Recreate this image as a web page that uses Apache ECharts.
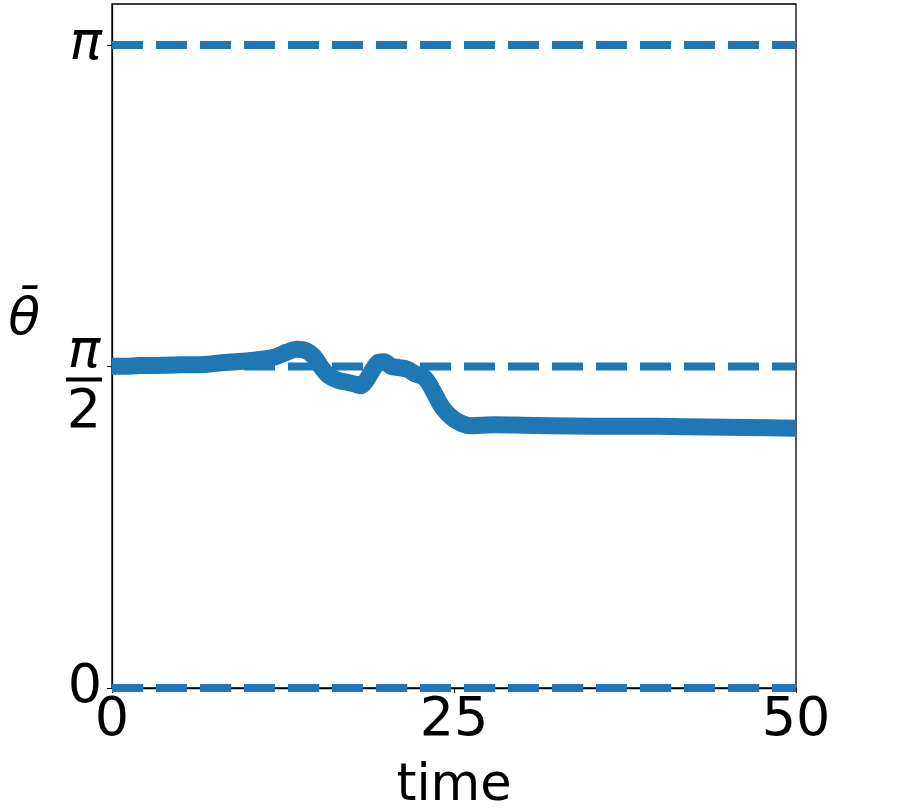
<!DOCTYPE html>
<html>
<head>
<meta charset="utf-8">
<script src="https://cdn.jsdelivr.net/npm/echarts@6/dist/echarts.min.js"></script>
<style>
  html, body { margin: 0; padding: 0; background: #fff; }
  #chart { width: 902px; height: 811px; }
</style>
</head>
<body>
<div id="chart"></div>
<script>
// time samples and mean angle
const times = [0, 1, 2, 3, 4, 5, 6, 7, 8, 9, 10, 11, 12, 12.8, 13.5, 14.2, 14.8, 15.3, 15.8,
  16.5, 17.2, 17.8, 18.2, 18.6, 19.0, 19.5, 19.9, 20.4, 21.0, 21.6, 22.2, 22.8, 23.2, 23.6,
  24.0, 24.5, 25.0, 25.6, 26.2, 27, 28, 30, 32, 35, 38, 40, 42, 45, 48, 50]
const theta = [1.572, 1.572, 1.575, 1.575, 1.577, 1.579, 1.579, 1.582, 1.589, 1.594, 1.599,
  1.606, 1.619, 1.641, 1.655, 1.648, 1.616, 1.567, 1.528, 1.504, 1.494, 1.484, 1.477, 1.504,
  1.548, 1.592, 1.594, 1.572, 1.565, 1.557, 1.533, 1.518, 1.484, 1.435, 1.386, 1.342, 1.313,
  1.291, 1.281, 1.284, 1.286, 1.284, 1.281, 1.279, 1.279, 1.279, 1.276, 1.274, 1.271, 1.269]
// dashed reference levels
const refLevels = [0, Math.PI / 2, Math.PI]
const xTicks = [0, 25, 50]

const color = '#1f77b4'
const chart = echarts.init(document.getElementById('chart'))

const refSeries = refLevels.map(v => ({
  type: 'line',
  data: [[0, v], [50, v]],
  symbol: 'none',
  silent: true,
  lineStyle: { color: color, width: 8, type: [31, 13] }
}))

const option = {
  animation: false,
  grid: {
    left: 112, right: 106, top: 4, bottom: 123,
    outerBoundsMode: 'none',
    containLabel: false,
    show: true, borderColor: '#000', borderWidth: 1.3
  },
  xAxis: {
    type: 'value',
    min: 0, max: 50, interval: 25,
    name: 'time',
    nameLocation: 'middle',
    nameGap: 73,
    nameTextStyle: { fontSize: 51, color: '#000', fontFamily: 'DejaVu Sans' },
    axisLine: { show: true, lineStyle: { color: '#000', width: 1.3 } },
    axisTick: { show: true, length: 5, lineStyle: { color: '#000' } },
    axisLabel: {
      fontSize: 54, color: '#000', fontFamily: 'DejaVu Sans', margin: 6,
      customValues: xTicks
    },
    splitLine: { show: false }
  },
  yAxis: {
    type: 'value',
    min: 0, max: Math.PI + 0.2,
    name: 'θ\u0304',
    nameLocation: 'middle',
    nameRotate: 0,
    nameGap: 72,
    nameTextStyle: {
      fontSize: 52, color: '#000', fontFamily: 'DejaVu Sans', fontStyle: 'italic',
      verticalAlign: 'bottom'
    },
    axisLine: { show: true, lineStyle: { color: '#000', width: 1.3 } },
    axisTick: { show: true, length: 5, lineStyle: { color: '#000' }, customValues: refLevels },
    axisLabel: {
      customValues: refLevels,
      margin: 10,
      color: '#000',
      fontFamily: 'DejaVu Sans',
      fontSize: 54,
      formatter: function (v) {
        if (Math.abs(v) < 1e-6) return '0'
        if (Math.abs(v - Math.PI / 2) < 1e-6) return '{sp| }\n{n|π}\n{bar| }\n{d|2}'
        return '{p|π}'
      },
      rich: {
        p: { fontSize: 54, fontStyle: 'italic', fontFamily: 'DejaVu Sans', color: '#000' },
        sp: { fontSize: 4, lineHeight: 38 },
        n: { fontSize: 54, fontStyle: 'italic', fontFamily: 'DejaVu Sans', color: '#000', lineHeight: 42, align: 'center' },
        bar: { width: 36, height: 4, lineHeight: 12, backgroundColor: '#000', fontSize: 4 },
        d: { fontSize: 54, fontFamily: 'DejaVu Sans', color: '#000', lineHeight: 54, align: 'center' }
      }
    },
    splitLine: { show: false }
  },
  series: refSeries.concat([{
    type: 'line',
    data: times.map((t, i) => [t, theta[i]]),
    symbol: 'none',
    smooth: 0.3,
    lineStyle: { color: color, width: 17, join: 'round', cap: 'butt' }
  }])
}

chart.setOption(option)
</script>
</body>
</html>
